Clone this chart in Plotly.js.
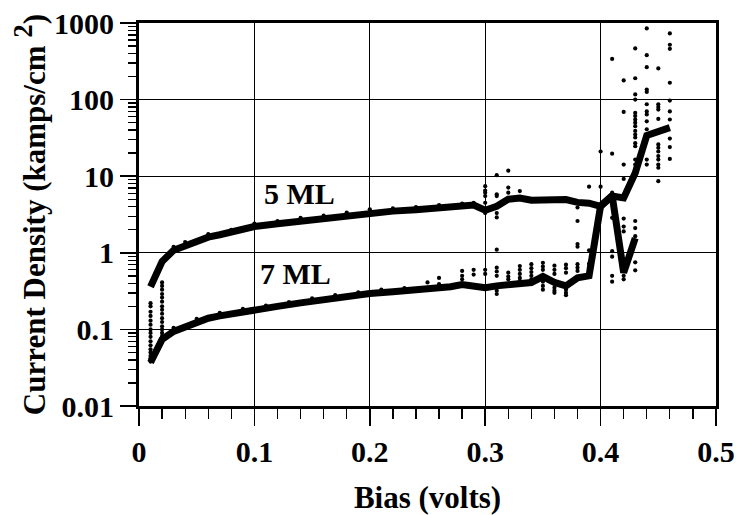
<!DOCTYPE html>
<html>
<head>
<meta charset="utf-8">
<script src="https://cdn.plot.ly/plotly-3.0.1.min.js"></script>
<style>html,body{margin:0;padding:0;background:#fff;}#chart{width:738px;height:515px;}</style>
</head>
<body>
<div id="chart"></div>
<script>
// Main curves
const bias5 = [0.01,0.02,0.03,0.04,0.05,0.06,0.07,0.08,0.09,0.10,0.12,0.14,0.16,0.18,0.20,0.22,0.24,0.26,0.28,0.29,0.30,0.31,0.32,0.33,0.34,0.35,0.36,0.37,0.38,0.39,0.40,0.41,0.42,0.43,0.44,0.45,0.46];
const dens5 = [0.36,0.77,1.08,1.25,1.45,1.6,1.72,1.85,2.05,2.2,2.4,2.6,2.8,3.1,3.4,3.5,3.65,3.85,4.05,4.2,3.6,4.06,5.0,5.2,4.85,4.95,5.05,4.95,4.55,4.45,4.05,5.5,5.2,11,34,38,43];
const bias7 = [0.01,0.02,0.03,0.04,0.05,0.06,0.07,0.08,0.09,0.10,0.12,0.14,0.16,0.18,0.20,0.22,0.24,0.26,0.27,0.28,0.29,0.30,0.31,0.32,0.33,0.34,0.35,0.36,0.37,0.38,0.39,0.40,0.41,0.42,0.43];
const dens7 = [0.037,0.074,0.094,0.108,0.125,0.14,0.15,0.16,0.17,0.18,0.2,0.222,0.245,0.27,0.295,0.31,0.325,0.345,0.36,0.385,0.36,0.35,0.37,0.38,0.385,0.41,0.49,0.41,0.37,0.47,0.50,4.1,5.6,0.55,1.55];

// Individual measurement dots: low-bias columns
const colLowX = [0.01,0.01,0.01,0.01,0.01,0.01,0.01,0.01,0.01,0.01,0.01,0.01,0.01,0.01,0.01,0.01,
                 0.02,0.02,0.02,0.02,0.02,0.02,0.02,0.02,0.02,0.02,0.02,0.02,0.02,0.02,0.02];
const colLowY = [0.22,0.2,0.17,0.15,0.13,0.115,0.1,0.09,0.08,0.07,0.062,0.055,0.05,0.045,0.042,0.038,
                 0.41,0.37,0.33,0.29,0.26,0.23,0.2,0.18,0.16,0.14,0.125,0.11,0.1,0.09,0.082];

// Dots along the curves
const edge5X = [0.03,0.04,0.06,0.08,0.10,0.12,0.14,0.16,0.18,0.20,0.22,0.24,0.26,0.28];
const edge5Y = [1.2,1.38,1.75,2.0,2.4,2.6,2.85,3.05,3.35,3.7,3.8,3.95,4.2,4.4];
const edge7X = [0.03,0.05,0.07,0.09,0.11,0.13,0.15,0.17,0.19,0.21,0.23,0.25,0.26,0.26,0.28];
const edge7Y = [0.105,0.137,0.165,0.185,0.205,0.228,0.255,0.28,0.305,0.33,0.345,0.41,0.47,0.39,0.45];

// High-bias scatter (upper branch)
const hiX = [0.29,
  0.30,0.30,0.30,0.30,0.30,0.30,
  0.31,0.31,0.31,0.31,0.31,0.31,
  0.32,0.32,0.32,
  0.33,
  0.38,0.38,0.38,0.38,
  0.39,0.39,
  0.40,0.40,
  0.41,0.41,0.41,0.41,0.41,0.41,0.41,0.41,
  0.42,0.42,0.42,0.42,0.42,0.42,0.42,0.42,0.42,0.42,
  0.43,0.43,0.43,0.43,0.43,0.43,0.43,0.43,0.43,0.43,0.43,0.43,0.43,0.43,0.43,0.43,0.43,0.43,0.43,0.43,0.43,
  0.44,0.44,0.44,0.44,0.44,0.44,0.44,0.44,0.44,0.44,0.44,0.44,
  0.45,0.45,0.45,0.45,0.45,0.45,0.45,0.45,0.45,0.45,0.45,0.45,0.45,
  0.46,0.46,0.46,0.46,0.46,0.46,0.46,0.46,0.46,0.46];
const hiY = [4.5,
  7.4,6.5,6.1,5.5,4.5,3.3,
  10.3,5.8,5.5,3.3,2.9,1.1,
  11.8,7.1,6.1,
  6.4,
  3.9,2.6,1.3,1.2,
  7.3,1.08,
  21,7.3,
  340,19.7,6.1,2.86,1.05,0.89,0.5,0.42,
  178,69,14.2,9.2,2.8,2.2,1.9,0.6,0.5,0.45,
  465,190,117,100,67,61,55,50,45,39,35,32,27,24.6,16.5,14.2,2.6,2.1,1.65,0.75,0.59,
  850,380,265,135,126,87,70,64,52,41,16.5,14.2,
  255,87,80,74,56,26,23.5,21,18.3,16.5,14.2,12.9,8.6,
  730,520,460,166,97,70,55,31,24,16.8];

// Scatter around the 7 ML branch
const loX = [0.28,0.28,0.29,0.29,0.30,0.30,
  0.31,0.31,0.31,0.31,0.31,
  0.32,0.32,0.32,
  0.33,0.33,0.33,0.33,0.33,
  0.34,0.34,0.34,0.34,0.34,0.34,
  0.35,0.35,0.35,0.35,0.35,0.35,
  0.36,0.36,0.36,0.36,0.36,0.36,
  0.37,0.37,0.37,0.37,0.37,0.37,
  0.38,0.38,0.38,
  0.39,0.39,0.39,0.39];
const loY = [0.58,0.5,0.6,0.52,0.6,0.53,
  0.64,0.57,0.5,0.32,0.29,
  0.55,0.49,0.45,
  0.67,0.6,0.53,0.47,0.43,
  0.71,0.63,0.56,0.5,0.45,0.42,
  0.74,0.66,0.6,0.42,0.37,0.33,
  0.68,0.6,0.53,0.35,0.32,0.3,
  0.7,0.63,0.55,0.33,0.3,0.28,
  0.71,0.64,0.58,
  0.72,0.65,0.58,0.53];

const xTickVals = [0,0.1,0.2,0.3,0.4,0.5];
const xTickText = ['0','0.1','0.2','0.3','0.4','0.5'];
const yTickVals = [0.01,0.1,1,10,100,1000];
const yTickText = ['0.01','0.1','1','10','100','1000'];
const curveLabels = ['5 ML','7 ML'];

const FONT = 'Liberation Serif, Times New Roman, serif';
const dot = {color:'#000', size:4.2};

const traces = [
  {x: colLowX, y: colLowY, mode:'markers', marker: dot, type:'scatter', hoverinfo:'skip'},
  {x: edge5X, y: edge5Y, mode:'markers', marker: dot, type:'scatter'},
  {x: edge7X, y: edge7Y, mode:'markers', marker: dot, type:'scatter'},
  {x: hiX, y: hiY, mode:'markers', marker: dot, type:'scatter'},
  {x: loX, y: loY, mode:'markers', marker: dot, type:'scatter'},
  {x: bias5, y: dens5, mode:'lines', line:{color:'#000', width:7}, type:'scatter', name: curveLabels[0]},
  {x: bias7, y: dens7, mode:'lines', line:{color:'#000', width:7}, type:'scatter', name: curveLabels[1]}
];

const layout = {
  width: 738, height: 515,
  margin: {l:139, r:22, t:23, b:109},
  paper_bgcolor:'#fff', plot_bgcolor:'#fff',
  showlegend:false,
  font: {family: FONT, color:'#000', size: 30, weight: 'bold'},
  xaxis: {
    range:[0,0.5], tickmode:'array', tickvals: xTickVals, ticktext: xTickText,
    ticks:'outside', ticklen:17, tickwidth:1.5, tickcolor:'#000',
    showline:true, linewidth:3, linecolor:'#000', mirror:true,
    showgrid:true, gridcolor:'#000', gridwidth:1.3, zeroline:false,
    tickfont:{family:FONT, size:30, color:'#000', weight:'bold'},
    minor:{dtick:0.02, tick0:0, ticks:'outside', ticklen:10, tickwidth:1.3, tickcolor:'#000', showgrid:false},
    title:{text:'Bias (volts)', font:{family:FONT, size:31, color:'#000', weight:'bold'}}
  },
  yaxis: {
    type:'log', range:[-2,3], tickmode:'array', tickvals: yTickVals, ticktext: yTickText,
    ticks:'outside', ticklen:16, tickwidth:1.5, tickcolor:'#000',
    showline:true, linewidth:3, linecolor:'#000', mirror:true,
    showgrid:true, gridcolor:'#000', gridwidth:1.3, zeroline:false,
    tickfont:{family:FONT, size:30, color:'#000', weight:'bold'},
    minor:{tickvals:[0.02,0.03,0.04,0.05,0.06,0.07,0.08,0.09,0.2,0.3,0.4,0.5,0.6,0.7,0.8,0.9,2,3,4,5,6,7,8,9,20,30,40,50,60,70,80,90,200,300,400,500,600,700,800,900], ticks:'outside', ticklen:8, tickwidth:1.3, tickcolor:'#000', showgrid:false},
    title:{text:'Current Density (kamps/cm <sup><span style="font-size:27px">2</span></sup>)', font:{family:FONT, size:31, color:'#000', weight:'bold'}}
  },
  annotations: [
    {x:0.107, y:0.774, xref:'x', yref:'y', text: curveLabels[0], showarrow:false, xanchor:'left', yanchor:'middle',
     font:{family:FONT, size:30, color:'#000', weight:'bold'}},
    {x:0.103, y:-0.27, xref:'x', yref:'y', text: curveLabels[1], showarrow:false, xanchor:'left', yanchor:'middle',
     font:{family:FONT, size:30, color:'#000', weight:'bold'}}
  ]
};

Plotly.newPlot('chart', traces, layout, {staticPlot:true, displayModeBar:false});
</script>
</body>
</html>
